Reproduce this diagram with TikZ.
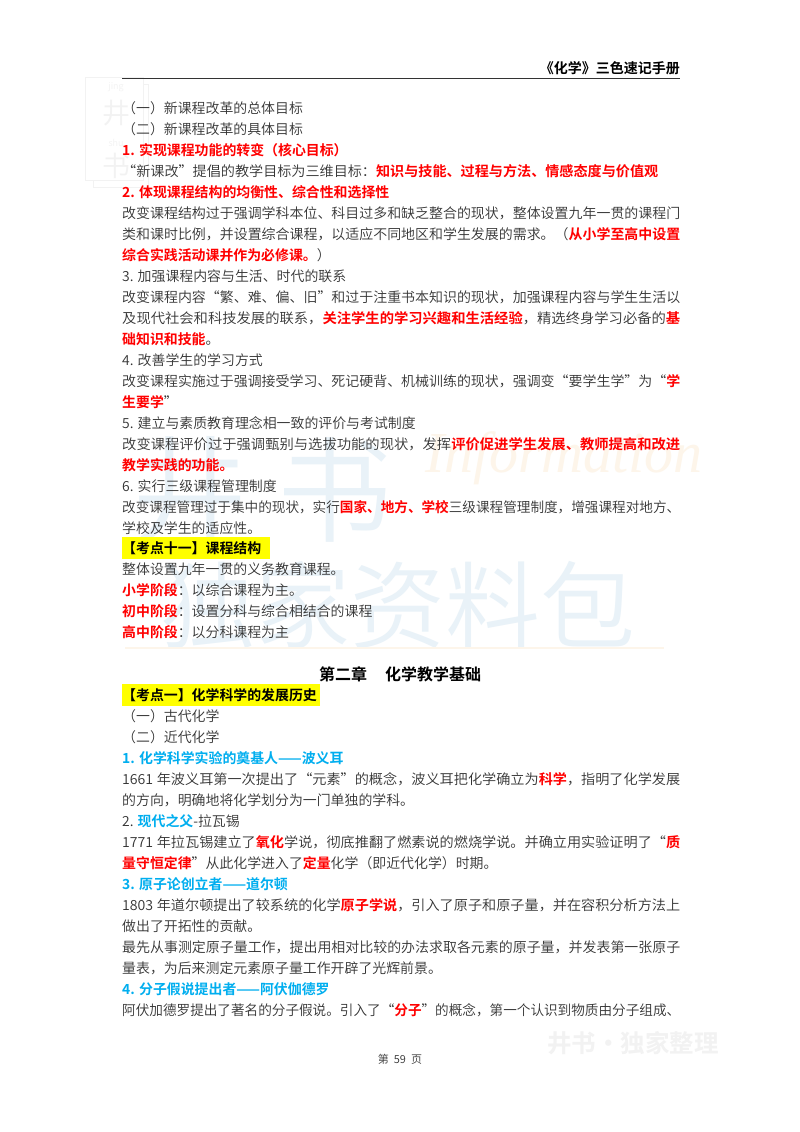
\documentclass[tikz,border=0pt]{standalone}
\usepackage{fontspec}
\setmainfont[BoldFont={Noto Sans CJK SC Bold}]{Noto Sans CJK SC DemiLight}
\newfontfamily\wmlatin{Liberation Serif Italic}
\definecolor{ink}{HTML}{333333}
\definecolor{hl}{HTML}{FFFF00}
\definecolor{rd}{HTML}{FF0000}
\definecolor{bl}{HTML}{00AEEF}
\definecolor{wmb}{HTML}{E9F2F8}
\definecolor{wmo}{HTML}{FDF5EA}
\definecolor{wmg}{HTML}{F2F2F2}
\newcommand{\R}[1]{{\bfseries\color{rd}#1}}
\newcommand{\B}[1]{{\bfseries\color{bl}#1}}
\newcommand{\K}[1]{{\bfseries\color{black}#1}}
\newcommand{\LQ}{\makebox[13.9pt][r]{“}}
\newcommand{\RQ}{\makebox[13.9pt][l]{”}}
\newcommand{\Sp}{\hspace{3.5pt}}
\tikzset{x=1pt,y=-1pt,
 ln/.style={anchor=west,inner sep=0pt,text=ink,font=\fontsize{13.9}{16}\selectfont},
 hlbar/.style={fill=hl,draw=none},
 wm/.style={inner sep=0pt,text=wmb}}
\newcommand{\J}[1]{\resizebox{558pt}{\height}{#1}}
\begin{document}
\begin{tikzpicture}
\useasboundingbox (0,0) rectangle (800,1132);
\fill[white] (0,0) rectangle (800,1132);
% watermarks
\draw[wmg,line width=1pt] (85,77) rectangle (143,180);
\draw[wmg,line width=1pt] (143,84) -- (148,84) -- (148,187) -- (93,187) -- (93,180);
\node[wm,text=wmg,font=\fontsize{28}{28}\selectfont] (logoa) at (116,113) {井};
\node[wm,text=wmg,font=\fontsize{28}{28}\selectfont] (logob) at (116,166) {书};
\node[wm,text=wmg,font=\fontsize{9}{9}\selectfont] (logoc) at (116,87) {jing};
\node[wm,text=wmg,font=\fontsize{9}{9}\selectfont] (logod) at (116,143) {shu};
\node[wm,font=\fontsize{115}{115}\selectfont] (wa) at (190,490) {井};
\node[wm,font=\fontsize{115}{115}\selectfont] (wb) at (335,490) {书};
\node[wm,font=\fontsize{95}{95}\selectfont,anchor=west] (wc) at (160,605) {独家资料包};
\node[wm,text=wmo,font=\wmlatin\fontsize{58}{58}\selectfont,anchor=west] (wd) at (425,458) {Information};
\draw[wmo,line width=1.5pt] (125,648) -- (664,648);
\node[wm,text=wmg,font=\bfseries\fontsize{24.5}{24.5}\selectfont] (we) at (633,1043) {井书·独家整理};
% header
\node[ln,anchor=east,text=black,font=\bfseries\fontsize{14}{16}\selectfont] (hd) at (680,68) {《化学》三色速记手册};
\draw[ink,line width=0.9pt] (122,78.5) -- (680,78.5);
% highlight bars
\fill[hlbar] (122,537) rectangle (270,559);
\fill[hlbar] (122,684) rectangle (320,706);
% body
\node[ln] (l01) at (122,108) {（一）新课程改革的总体目标};
\node[ln] (l02) at (122,129) {（二）新课程改革的具体目标};
\node[ln] (l03) at (122,150) {\R{1. 实现课程功能的转变（核心目标）}};
\node[ln] (l04) at (122,171) {\resizebox{536pt}{\height}{\LQ 新课改\RQ 提倡的教学目标为三维目标：\R{知识与技能、过程与方法、情感态度与价值观}}};
\node[ln] (l05) at (122,192) {\R{2. 体现课程结构的均衡性、综合性和选择性}};
\node[ln] (l06) at (122,213) {\J{改变课程结构过于强调学科本位、科目过多和缺乏整合的现状，整体设置九年一贯的课程门}};
\node[ln] (l07) at (122,234) {\J{类和课时比例，并设置综合课程，以适应不同地区和学生发展的需求。（\R{从小学至高中设置}}};
\node[ln] (l08) at (122,255) {\R{综合实践活动课并作为必修课。}）};
\node[ln] (l09) at (122,276) {3. 加强课程内容与生活、时代的联系};
\node[ln] (l10) at (122,297) {\J{改变课程内容\LQ 繁、难、偏、旧\RQ 和过于注重书本知识的现状，加强课程内容与学生生活以}};
\node[ln] (l11) at (122,318) {\J{及现代社会和科技发展的联系，\R{关注学生的学习兴趣和生活经验}，精选终身学习必备的\R{基}}};
\node[ln] (l12) at (122,339) {\R{础知识和技能}。};
\node[ln] (l13) at (122,360) {4. 改善学生的学习方式};
\node[ln] (l14) at (122,381) {\J{改变课程实施过于强调接受学习、死记硬背、机械训练的现状，强调变\LQ 要学生学\RQ 为\LQ\R{学}}};
\node[ln] (l15) at (122,402) {\R{生要学}\RQ};
\node[ln] (l16) at (122,423) {5. 建立与素质教育理念相一致的评价与考试制度};
\node[ln] (l17) at (122,444) {\J{改变课程评价过于强调甄别与选拔功能的现状，发挥\R{评价促进学生发展、教师提高和改进}}};
\node[ln] (l18) at (122,465) {\R{教学实践的功能。}};
\node[ln] (l19) at (122,486) {6. 实行三级课程管理制度};
\node[ln] (l20) at (122,507) {\J{改变课程管理过于集中的现状，实行\R{国家、地方、学校}三级课程管理制度，增强课程对地方、}};
\node[ln] (l21) at (122,528) {学校及学生的适应性。};
\node[ln] (l22) at (122,548) {\K{【考点十一】课程结构}};
\node[ln] (l23) at (122,569) {整体设置九年一贯的义务教育课程。};
\node[ln] (l24) at (122,590) {\R{小学阶段}：以综合课程为主。};
\node[ln] (l25) at (122,611) {\R{初中阶段}：设置分科与综合相结合的课程};
\node[ln] (l26) at (122,632) {\R{高中阶段}：以分科课程为主};
\node[ln,anchor=center,text=black,font=\bfseries\fontsize{16}{18}\selectfont] (ch) at (400,674) {第二章\hspace{18pt}化学教学基础};
\node[ln] (l27) at (122,695) {\K{【考点一】化学科学的发展历史}};
\node[ln] (l28) at (122,716) {（一）古代化学};
\node[ln] (l29) at (122,737) {（二）近代化学};
\node[ln] (l30) at (122,758) {\B{1. 化学科学实验的奠基人——波义耳}};
\node[ln] (l31) at (122,779) {\J{1661\Sp 年波义耳第一次提出了\LQ 元素\RQ 的概念，波义耳把化学确立为\R{科学}，指明了化学发展}};
\node[ln] (l32) at (122,800) {的方向，明确地将化学划分为一门单独的学科。};
\node[ln] (l33) at (122,821) {2. \B{现代之父}-拉瓦锡};
\node[ln] (l34) at (122,842) {\J{1771\Sp 年拉瓦锡建立了\R{氧化}学说，彻底推翻了燃素说的燃烧学说。并确立用实验证明了\LQ\R{质}}};
\node[ln] (l35) at (122,863) {\R{量守恒定律}\RQ 从此化学进入了\R{定量}化学（即近代化学）时期。};
\node[ln] (l36) at (122,884) {\B{3. 原子论创立者——道尔顿}};
\node[ln] (l37) at (122,905) {\J{1803\Sp 年道尔顿提出了较系统的化学\R{原子学说}，引入了原子和原子量，并在容积分析方法上}};
\node[ln] (l38) at (122,926) {做出了开拓性的贡献。};
\node[ln] (l39) at (122,947) {\J{最先从事测定原子量工作，提出用相对比较的办法求取各元素的原子量，并发表第一张原子}};
\node[ln] (l40) at (122,968) {量表，为后来测定元素原子量工作开辟了光辉前景。};
\node[ln] (l41) at (122,989) {\B{4. 分子假说提出者——阿伏伽德罗}};
\node[ln] (l42) at (122,1010) {\J{阿伏加德罗提出了著名的分子假说。引入了\LQ\R{分子}\RQ 的概念，第一个认识到物质由分子组成、}};
\node[ln,anchor=center,font=\fontsize{11}{12}\selectfont] (pg) at (400,1059) {第\hspace{5pt}59\hspace{5pt}页};
\end{tikzpicture}
\end{document}
